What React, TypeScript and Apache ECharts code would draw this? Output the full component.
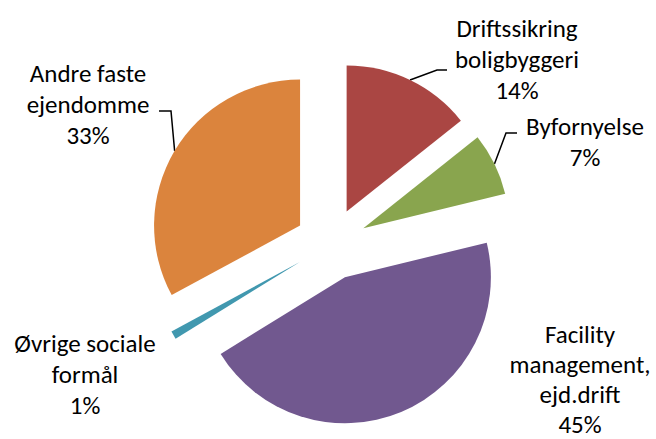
import React, { useEffect, useRef } from 'react';
import * as echarts from 'echarts';

const categories = [
  'Driftssikring\nboligbyggeri',
  'Byfornyelse',
  'Facility\nmanagement,\nejd.drift',
  'Øvrige sociale\nformål',
  'Andre faste\nejendomme',
];
const values = [14.3, 6.9, 45.0, 0.9, 32.9];
const colors = ['#AA4643', '#89A54E', '#71588F', '#4198AF', '#DB843D'];

// label block centres (px), line heights and leader-line elbow/end points (px), layout only
const labelCenters = [[517, 59], [585, 142], [580, 379], [85, 374], [88, 104]];
const labelLineHeights = [31, 31, 30, 31, 31];
const leaderPoints: (number[][] | null)[] = [
  [[437, 70], [447, 70]],
  [[506, 133], [517, 133]],
  null,
  null,
  [[171, 111], [159, 111]],
];

const CX = 331;
const CY = 244;
const R = 146;
const EXPLODE = 36;
const FONT = 'Carlito, Calibri, Lato, "Open Sans", sans-serif';

export default function App() {
  const ref = useRef<HTMLDivElement>(null);
  useEffect(() => {
    if (!ref.current) return;
    const chart = echarts.init(ref.current, undefined, { renderer: 'svg' });
    const total = values.reduce((a, b) => a + b, 0);
    let acc = 0;
    const series = values.map((v, i) => {
      const mid = ((acc + v / 2) / total) * Math.PI * 2;
      acc += v;
      const center = [CX + EXPLODE * Math.sin(mid), CY - EXPLODE * Math.cos(mid)];
      const start = [center[0] + R * Math.sin(mid), center[1] - R * Math.cos(mid)];
      return {
        type: 'pie',
        center,
        radius: R,
        startAngle: 90,
        clockwise: true,
        silent: true,
        animation: false,
        avoidLabelOverlap: false,
        data: values.map((val, j) => ({
          value: val,
          name: categories[j],
          itemStyle: { color: j === i ? colors[j] : 'rgba(0,0,0,0)', borderWidth: 0 },
          label: { show: j === i, lineHeight: labelLineHeights[j] },
          labelLine: { show: j === i && leaderPoints[j] != null },
        })),
        label: {
          position: 'outside',
          formatter: (p: any) => `${p.name}\n${Math.round(p.percent)}%`,
          fontFamily: FONT,
          fontSize: 25,
          lineHeight: 31,
          color: '#000',
          align: 'center',
          width: 240,
          overflow: 'none',
        },
        labelLine: { lineStyle: { color: '#000', width: 1.5 }, smooth: false },
        labelLayout: (p: any) => {
          const j = p.dataIndex;
          const c = labelCenters[j];
          const res: any = { x: c[0], y: c[1], align: 'center', verticalAlign: 'middle' };
          const lp = leaderPoints[j];
          if (lp && j === i) res.labelLinePoints = [start, lp[0], lp[1]];
          return res;
        },
      };
    });
    chart.setOption({ animation: false, series });
    return () => chart.dispose();
  }, []);
  return (
    <div
      ref={ref}
      style={{ position: 'fixed', left: 0, top: 0, width: 656, height: 439, background: '#fff' }}
    />
  );
}
